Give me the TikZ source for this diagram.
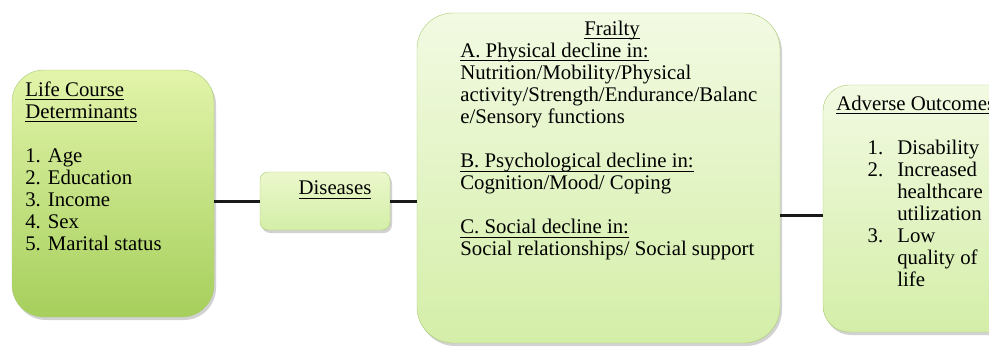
\documentclass[tikz,border=0pt]{standalone}
\usepackage{fontspec}
\setmainfont{Liberation Serif}
\usepackage{tikz}
\usetikzlibrary{shadows}

\definecolor{darkleaf}{HTML}{A6CF5C}
\definecolor{lightleaf}{HTML}{E2F4AA}
\definecolor{paleleaf}{HTML}{F2FAE2}
\definecolor{softleaf}{HTML}{D4EEA8}
\definecolor{rimleaf}{HTML}{A9CB72}
\newcommand{\headline}[1]{\underline{\vphantom{A}\smash{#1}\rule[-2pt]{0pt}{2pt}}}

\begin{document}
\begin{tikzpicture}[x=1pt,y=-1pt,
      every node/.style={font=\fontsize{20.8}{22.1}\selectfont},
      semithick]
    \tikzstyle{box}=[draw=rimleaf,thin,rounded corners=32pt,
      drop shadow={shadow xshift=2pt,shadow yshift=-3pt,opacity=0.35}]
    \tikzstyle{txt}=[anchor=north west,inner sep=0pt,align=left]
    \tikzstyle{link}=[draw=black!90,line width=3pt]

    \clip (0,0) rectangle (989,346);
    \fill[white] (0,0) rectangle (989,346);

    % boxes
    \node[box,top color=lightleaf,bottom color=darkleaf,minimum width=202pt,
      minimum height=247pt] (life) at (113,193.5) {};
    \node[box,rounded corners=8pt,top color=paleleaf!60!lightleaf,
      bottom color=softleaf,minimum width=130pt,minimum height=58pt] (dis) at (325,201) {};
    \node[box,rounded corners=36pt,top color=paleleaf,bottom color=softleaf,
      minimum width=363pt,minimum height=330pt] (frail) at (598.5,178) {};
    \node[box,rounded corners=26pt,top color=paleleaf,bottom color=softleaf,
      minimum width=220pt,minimum height=247pt] (adv) at (933,208.5) {};

    % texts
    \node[txt] (lifetxt) at (25,82) {\headline{Life Course}\\\headline{Determinants}\\[22.1pt]
      1. Age\\2. Education\\3. Income\\4. Sex\\5. Marital status};
    \node[anchor=center,inner sep=0pt] (distxt) at (335,190) {\headline{Diseases}};
    \node[anchor=north,inner sep=0pt] (frailhead) at (612,21) {\headline{Frailty}};
    \node[txt] (frailtxt) at (460,43) {\headline{A. Physical decline in:}\\
      Nutrition/Mobility/Physical\\activity/Strength/Endurance/Balanc\\e/Sensory functions\\[22.1pt]
      \headline{B. Psychological decline in:}\\Cognition/Mood/ Coping\\[22.1pt]
      \headline{C. Social decline in:}\\Social relationships/ Social support};
    \node[txt] (advtxt) at (836,96) {\headline{Adverse Outcomes}\\[22.1pt]
      \hspace*{61pt}\llap{1.\hspace*{14pt}}Disability\\
      \hspace*{61pt}\llap{2.\hspace*{14pt}}Increased\\
      \hspace*{61pt}healthcare\\
      \hspace*{61pt}utilization\\
      \hspace*{61pt}\llap{3.\hspace*{14pt}}Low\\
      \hspace*{61pt}quality of\\
      \hspace*{61pt}life};

    % connectors
    \path[link] (life.east |- dis.west) -- (dis.west)
      (dis.east) -- (dis.east -| frail.west)
      ([yshift=-7pt]adv.west) -- ([yshift=-7pt]adv.west -| frail.east);
  \end{tikzpicture}
\end{document}
